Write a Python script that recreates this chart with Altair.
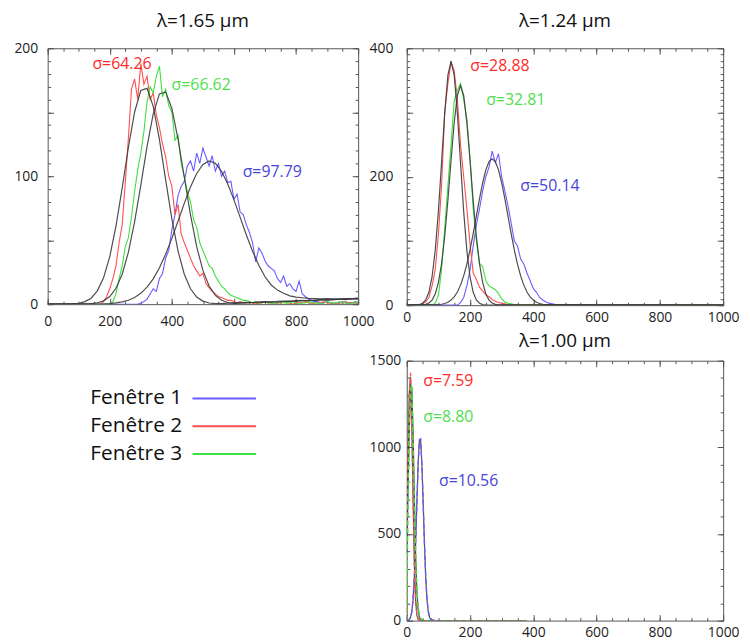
import altair as alt
import pandas as pd

# ------------------------------------------------------------------ data
PANEL_TITLES = ["λ=1.65 µm", "λ=1.24 µm", "λ=1.00 µm"]
SERIES = ["Fenêtre 1", "Fenêtre 2", "Fenêtre 3"]          # blue, red, green
HIST_COLORS = ["#6a5cff", "#ff4f4f", "#3ee03e"]
TEXT_COLORS = ["#4545dd", "#ff2a2a", "#4ee04e"]
LEGEND_COLORS = ["#2323ff", "#ff1a1a", "#44dd44"]
X_LABELS = [0, 200, 400, 600, 800, 1000]

# ---- panel 1 : lambda = 1.65 um  (histograms step 10, fits step 20)
P1_RED_X0 = 170
P1_RED = [0, 2, 6, 12, 20, 30, 48, 62, 95, 130, 168, 176, 160, 188, 172, 178, 160, 165, 148, 138,
          125, 115, 100, 92, 70, 78, 55, 48, 42, 36, 30, 26, 22, 24, 16, 13, 10, 8, 6, 5, 4, 3, 3,
          2, 1, 2, 1, 1, 2, 1, 0, 1, 1, 2, 1, 1, 0, 1, 1, 2, 1, 1, 0, 1, 1, 1, 2, 1, 0, 1, 1, 1, 2,
          1, 1, 0, 1, 1, 1, 2, 1, 1, 1, 0]
P1_GREEN_X0 = 200
P1_GREEN = [0, 2, 8, 20, 30, 45, 52, 68, 88, 105, 118, 135, 158, 170, 165, 178, 186, 162, 168, 155,
            150, 128, 132, 110, 100, 88, 80, 66, 60, 48, 42, 36, 30, 28, 22, 18, 14, 12, 9, 7, 6, 5,
            4, 3, 3, 2, 1, 2, 1, 1, 2, 1, 1, 0, 1, 2, 1, 1, 1, 2, 1, 0, 1, 1, 2, 1, 1, 1, 0, 1, 2,
            1, 1, 1, 2, 1, 1, 0, 1, 1, 2]
P1_BLUE_X0 = 290
P1_BLUE = [0, 1, 2, 4, 8, 12, 10, 20, 24, 36, 42, 58, 70, 85, 92, 96, 108, 112, 104, 118, 110, 122,
           115, 108, 116, 104, 110, 100, 104, 95, 96, 82, 86, 72, 70, 62, 56, 48, 33, 44, 40, 34, 30,
           28, 26, 20, 17, 22, 14, 16, 12, 10, 18, 8, 6, 4, 3, 2, 2, 1, 1, 2, 1, 1, 0, 1, 2, 1, 1, 1,
           2, 1]
P1_RED_FIT_X0 = 80
P1_RED_FIT = [0.2, 0.7, 2.0, 4.7, 10.4, 20.6, 37.2, 61, 90.8, 122.6, 150.2, 167, 168.7, 154.6, 128.6,
              97.1, 66.6, 41.4, 23.4, 12, 5.6, 2.4, 0.9, 0.4, 0.5, 0.8, 1, 1.2, 1.5, 1.3, 1.8, 2, 1.7,
              2.3, 2.5, 2.2, 2.8, 3, 2.7, 3.2, 3.5, 3.1, 3.8, 4, 3.6, 4.3, 4.5]
P1_GREEN_FIT_X0 = 140
P1_GREEN_FIT = [0.4, 1.1, 2.6, 6, 12.4, 23.4, 40.6, 64.4, 93.1, 123.1, 148.8, 164.3, 165.8, 152.9,
                128.8, 99.2, 69.8, 44.9, 26.4, 14.2, 6.9, 3.1, 1.3, 0.6, 0.8, 1, 1.2, 1.1, 1.5, 1.8,
                1.6, 2.1, 2.4, 2.2, 2.7, 3, 2.8, 3.3, 3.6, 3.4, 4, 4.4, 4.2, 4.8]
P1_BLUE_FIT_X0 = 180
P1_BLUE_FIT = [0.2, 0.5, 0.95, 1.8, 3.1, 5.2, 8.5, 13.3, 19.8, 28.4, 39, 51.4, 65, 78.8, 91.6, 102.1,
               109.2, 112, 110.1, 103.9, 93.9, 81.5, 67.8, 54.1, 41.4, 30.4, 21.4, 15, 11, 8.5, 6.5,
               5.5, 5, 4.6, 4.4, 4.2, 4.3, 4.1, 4, 4.2, 4.1, 4]

# ---- panel 2 : lambda = 1.24 um  (step 10)
P2_RED_X0 = 40
P2_RED = [0, 2, 5, 12, 30, 55, 110, 185, 300, 345, 378, 365, 320, 250, 200, 150, 95, 50, 40, 28, 22,
          16, 13, 9, 6, 4, 3, 2, 1, 0]
P2_GREEN_X0 = 80
P2_GREEN = [0, 3, 15, 55, 120, 185, 250, 318, 335, 345, 320, 290, 230, 150, 100, 65, 60, 38, 30, 27,
            24, 18, 10, 5, 3, 2, 1, 0]
P2_BLUE_X0 = 160
P2_BLUE = [0, 4, 12, 30, 55, 92, 125, 150, 178, 200, 215, 240, 222, 236, 200, 178, 155, 128, 100, 92,
           72, 64, 50, 38, 26, 20, 12, 8, 5, 3, 2, 1, 0]
P2_RED_FIT_X0 = 40
P2_RED_FIT = [0.9, 3, 8.2, 20.1, 43.9, 84.9, 145.6, 221.5, 299, 357.9, 380, 357.9, 299, 221.5, 145.6,
              84.9, 43.9, 20.1, 8.2, 3, 0.9, 0.2]
P2_GREEN_FIT_X0 = 60
P2_GREEN_FIT = [1.2, 3.3, 7.9, 17.5, 35.1, 64.3, 107.1, 162.7, 225.2, 284, 326.5, 342, 326.5, 284,
                225.2, 162.7, 107.1, 64.3, 35.1, 17.5, 7.9, 3.3, 1.2, 0.4]
P2_BLUE_FIT_X0 = 110
P2_BLUE_FIT = [1.4, 2.6, 4.6, 7.9, 13, 20.5, 31.2, 45.5, 63.8, 86, 111.4, 138.7, 165.9, 190.6, 210.6,
               223.5, 228, 223.5, 210.6, 190.6, 165.9, 138.7, 111.4, 86, 63.8, 45.5, 31.2, 20.5, 13,
               7.9, 4.6, 2.6, 1.4, 0.7]

# ---- panel 3 : lambda = 1.00 um  (step 4)
P3_RED_X0 = 0
P3_RED = [0, 950, 1290, 1430, 1120, 720, 340, 125, 40, 12, 3, 0]
P3_GREEN_X0 = 0
P3_GREEN = [0, 700, 1120, 1330, 1360, 1060, 700, 400, 180, 80, 30, 12, 5, 2, 0]
P3_BLUE_X0 = 0
P3_BLUE = [0, 2, 6, 20, 50, 125, 250, 445, 680, 900, 1045, 1050, 890, 680, 450, 250, 125, 55, 25, 12,
           6, 4, 3, 2, 1, 0]
P3_RED_FIT_X0 = 0
P3_RED_FIT = [498, 929, 1313, 1408, 1144, 704, 329, 116, 31, 6, 1, 0]
P3_GREEN_FIT_X0 = 0
P3_GREEN_FIT = [389, 723, 1094, 1345, 1345, 1094, 723, 389, 170, 61, 18, 4, 1, 0]
P3_BLUE_FIT_X0 = 0
P3_BLUE_FIT = [0, 2, 6, 19, 51, 121, 248, 440, 677, 902, 1041, 1041, 902, 677, 440, 248, 121, 51, 19,
               6, 2, 0]

# sigma labels: text, anchor (x, y) in data units, series index
P1_NOTES = [("σ=64.26", 144, 188, 1), ("σ=66.62", 399, 171, 2), ("σ=97.79", 628, 103, 0)]
P2_NOTES = [("σ=28.88", 201, 373, 1), ("σ=32.81", 251, 319, 2), ("σ=50.14", 359, 185, 0)]
P3_NOTES = [("σ=7.59", 52, 1380, 1), ("σ=8.80", 52, 1175, 2), ("σ=10.56", 102, 803, 0)]

FONT = "Open Sans"


def rows(name, x0, step, vals, xmin, xmax):
    pts = [(x0 + step * i, v) for i, v in enumerate(vals)]
    if pts[0][0] > xmin:
        pts = [(xmin, 0)] + pts
    if pts[-1][0] < xmax:
        pts = pts + [(xmax, 0)]
    return [{"series": name, "x": x, "y": y} for x, y in pts]


def build(series_defs, step, xmin, xmax):
    out = []
    for name, x0, vals in series_defs:
        out += rows(name, x0, step, vals, xmin, xmax)
    return pd.DataFrame(out)


def panel(hist_df, fit_df, notes, ydom, W, H, ylabels, xpad, ypad,
          xminor, xmajor, yminor, ymajor, title, title_offset, dashed=False):
    xs = alt.Scale(domain=[0, 1000], nice=False, zero=False)
    ys = alt.Scale(domain=ydom, nice=False, zero=False)
    mk = dict(strokeWidth=1.1, clip=True)
    if dashed:
        mk["strokeDash"] = [5, 3]
        mk["strokeWidth"] = 1.4
    hist = alt.Chart(hist_df).mark_line(**mk).encode(
        x=alt.X("x:Q", scale=xs, axis=alt.Axis(orient="bottom", values=X_LABELS, format="d", ticks=False,
                                               domain=False, grid=False, labelPadding=xpad, title=None,
                                               labelFlush=False, labelOverlap=False)),
        y=alt.Y("y:Q", scale=ys, axis=alt.Axis(orient="left", values=ylabels, format="d", ticks=False,
                                               domain=False, grid=False, labelPadding=ypad, title=None,
                                               labelFlush=False, labelOverlap=False)),
        color=alt.Color("series:N", scale=alt.Scale(domain=SERIES, range=HIST_COLORS), legend=None),
    )
    fit = alt.Chart(fit_df).mark_line(color="#3a3a3a", strokeWidth=1.2, clip=True, opacity=0.9).encode(
        x=alt.X("x:Q", scale=xs, axis=None),
        y=alt.Y("y:Q", scale=ys, axis=None),
        detail="series:N",
    )
    layers = [fit, hist] if dashed else [hist, fit]
    notes_df = pd.DataFrame([{"label": t, "x": x, "y": y, "color": TEXT_COLORS[i]} for t, x, y, i in notes])
    txt = alt.Chart(notes_df).mark_text(align="left", baseline="middle", font=FONT, fontSize=16).encode(
        x=alt.X("x:Q", scale=xs, axis=None),
        y=alt.Y("y:Q", scale=ys, axis=None),
        text="label:N",
        color=alt.Color("color:N", scale=None),
    )
    layers.append(txt)

    def ticks(xo, yo, xv, yv, size):
        return alt.Chart(fit_df).mark_line(opacity=0).encode(
            x=alt.X("x:Q", scale=xs, axis=alt.Axis(orient=xo, offset=-H, values=xv, tickSize=size, labels=False,
                                                   domain=False, grid=False, title=None, ticks=True,
                                                   tickColor="#555", tickWidth=1)),
            y=alt.Y("y:Q", scale=ys, axis=alt.Axis(orient=yo, offset=-W, values=yv, tickSize=size, labels=False,
                                                   domain=False, grid=False, title=None, ticks=True,
                                                   tickColor="#555", tickWidth=1)),
        )

    layers += [ticks("top", "right", xminor, yminor, 3), ticks("bottom", "left", xminor, yminor, 3),
               ticks("top", "right", xmajor, ymajor, 6), ticks("bottom", "left", xmajor, ymajor, 6)]
    return alt.layer(*layers).resolve_axis(x="independent", y="independent").properties(
        width=W, height=H,
        title=alt.Title(title, fontSize=19, font=FONT, fontWeight="normal", color="#111",
                        anchor="middle", offset=title_offset),
    )


p1_hist = build([(SERIES[0], P1_BLUE_X0, P1_BLUE), (SERIES[1], P1_RED_X0, P1_RED),
                 (SERIES[2], P1_GREEN_X0, P1_GREEN)], 10, 0, 1000)
p1_fit = build([(SERIES[0], P1_BLUE_FIT_X0, P1_BLUE_FIT), (SERIES[1], P1_RED_FIT_X0, P1_RED_FIT),
                (SERIES[2], P1_GREEN_FIT_X0, P1_GREEN_FIT)], 20, 0, 1000)
p2_hist = build([(SERIES[0], P2_BLUE_X0, P2_BLUE), (SERIES[1], P2_RED_X0, P2_RED),
                 (SERIES[2], P2_GREEN_X0, P2_GREEN)], 10, 0, 1000)
p2_fit = build([(SERIES[0], P2_BLUE_FIT_X0, P2_BLUE_FIT), (SERIES[1], P2_RED_FIT_X0, P2_RED_FIT),
                (SERIES[2], P2_GREEN_FIT_X0, P2_GREEN_FIT)], 10, 0, 1000)
p3_hist = build([(SERIES[0], P3_BLUE_X0, P3_BLUE), (SERIES[1], P3_RED_X0, P3_RED),
                 (SERIES[2], P3_GREEN_X0, P3_GREEN)], 4, 0, 378)
p3_fit = build([(SERIES[0], P3_BLUE_FIT_X0, P3_BLUE_FIT), (SERIES[1], P3_RED_FIT_X0, P3_RED_FIT),
                (SERIES[2], P3_GREEN_FIT_X0, P3_GREEN_FIT)], 4, 0, 378)

xminor = list(range(0, 1001, 50))
xmajor = X_LABELS

p1 = panel(p1_hist, p1_fit, P1_NOTES, [0, 200], 313, 258, [0, 100, 200], 10, 10,
           xminor, xmajor, list(range(0, 201, 10)), list(range(0, 201, 50)), PANEL_TITLES[0], 10)
p2 = panel(p2_hist, p2_fit, P2_NOTES, [0, 400], 319, 259, [0, 200, 400], 5, 14,
           xminor, xmajor, list(range(0, 401, 10)), list(range(0, 401, 100)), PANEL_TITLES[1], 10)
p3 = panel(p3_hist, p3_fit, P3_NOTES, [0, 1500], 319, 262, [0, 500, 1000, 1500], 5, 6,
           xminor, xmajor, list(range(0, 1501, 100)), list(range(0, 1501, 500)), PANEL_TITLES[2], 3,
           dashed=True)

# legend block
leg_df = pd.DataFrame({"label": SERIES})
ly = alt.Y("label:N", scale=alt.Scale(type="point", domain=SERIES, range=[38, 94], padding=0), axis=None)
leg_text = alt.Chart(leg_df).mark_text(align="left", baseline="middle", font=FONT, fontSize=21,
                                       color="#111").encode(x=alt.value(43), y=ly, text="label:N")
leg_line = alt.Chart(leg_df).mark_rule(strokeWidth=2).encode(
    x=alt.value(146), x2=alt.value(210), y=ly,
    color=alt.Color("label:N", scale=alt.Scale(domain=SERIES, range=LEGEND_COLORS), legend=None),
)
legend = alt.layer(leg_line, leg_text).properties(
    width=313, height=150, view=alt.ViewBackground(strokeOpacity=0))

chart = alt.concat(p1, p2, legend, p3, columns=2, spacing={"row": 56, "column": 49},
                   bounds="flush").properties(
    padding={"left": 5, "top": 1, "right": 2, "bottom": 0},
    background="white",
).configure_view(stroke="#555", strokeWidth=1).configure_axis(
    labelFont=FONT, labelFontSize=14, labelColor="#222"
)

chart.save("out.html", embed_options={"renderer": "svg", "actions": False})
